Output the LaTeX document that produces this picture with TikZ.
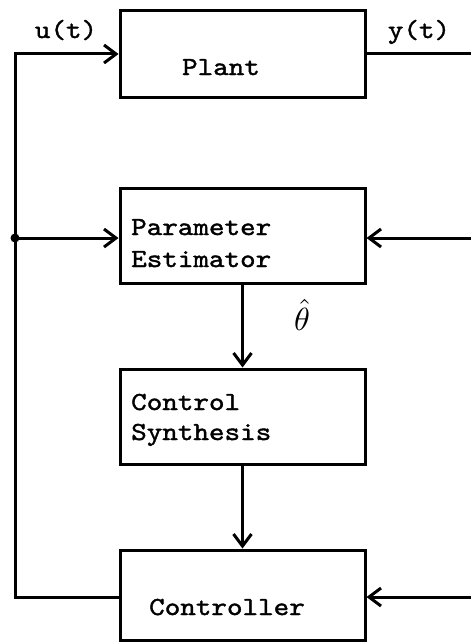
\documentclass[tikz,border=0pt]{standalone}
\usepackage{fontspec}
\usepackage{graphicx}
\newfontfamily\tw{lmmono10-regular.otf}[FakeStretch=1.14,FakeBold=1.5]
\usetikzlibrary{arrows.meta}
\begin{document}
\begin{tikzpicture}[x=1pt,y=-1pt,
  blk/.style={draw,line width=3pt,minimum width=245pt,inner sep=0pt},
  wire/.style={line width=3pt},
  arr/.style={wire,-{Straight Barb[length=12pt,width=18pt,line width=3pt]}},
  txt/.style={font=\tw\fontsize{26}{32}\selectfont,inner sep=0pt},
]
\useasboundingbox (0,0) rectangle (471,642);

% blocks
\node[blk,minimum height=86pt] (plant) at (242.5,54) {};
\node[blk,minimum height=95pt] (est)   at (242.5,236) {};
\node[blk,minimum height=95pt] (syn)   at (242.5,416.5) {};
\node[blk,minimum height=90pt] (ctrl)  at (242.5,595) {};

% block texts
\node[txt,anchor=base] (tplant) at (221,75) {Plant};
\node[txt,anchor=base west] (test1) at (131,235) {Parameter};
\node[txt,anchor=base west] (test2) at (131,267) {Estimator};
\node[txt,anchor=base west] (tsyn1) at (131,410) {Control};
\node[txt,anchor=base west] (tsyn2) at (131,440) {Synthesis};
\node[txt,anchor=base] (tctrl) at (227,615) {Controller};

% signal labels
\node[txt,anchor=base] (lu) at (66,38) {u(t)};
\node[txt,anchor=base] (ly) at (419,38) {y(t)};
\node[inner sep=0pt,anchor=base] (lth) at (302,330) {\scalebox{3.2}{$\hat{\theta}$}};

% wire corners and free ends
\coordinate (lbot) at (15,597);
\coordinate (ltop) at (15,54);
\coordinate (junc) at (15,238);
\coordinate (yend) at (471,54);
\coordinate (yest) at (471,238);
\coordinate (yctl) at (471,597);

% connectors
\draw[arr] (ctrl.west |- lbot) -- (lbot) -- (ltop) -- (plant.west);
\draw[wire] (plant.east) -- (yend);
\draw[arr] (junc) -- (est.west |- junc);
\fill (junc) circle (4.5pt);
\draw[arr] (yest) -- (est.east |- yest);
\draw[arr] (est.south) -- (syn.north);
\draw[arr] (syn.south) -- (ctrl.north);
\draw[arr] (yctl) -- (ctrl.east |- yctl);
\end{tikzpicture}
\end{document}
